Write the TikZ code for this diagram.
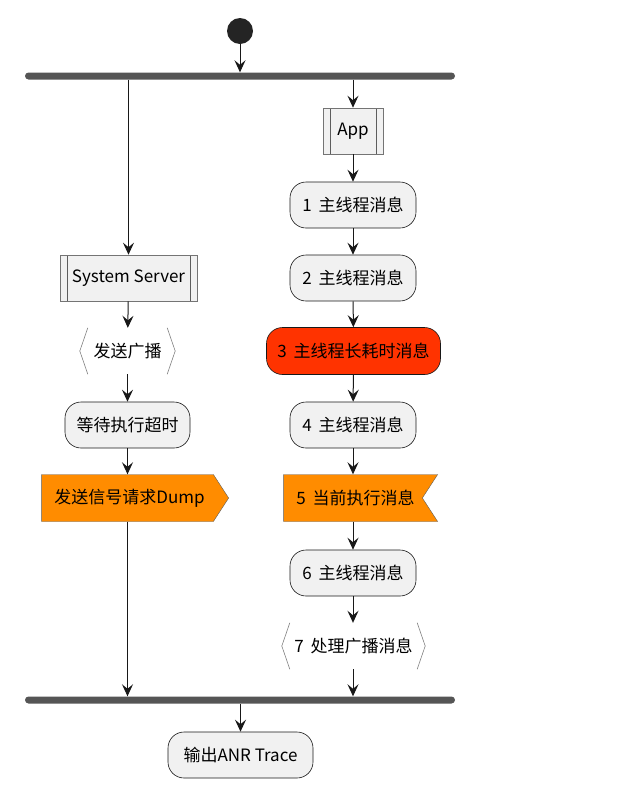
\documentclass[tikz,border=0pt]{standalone}
\usepackage{fontspec}
\setmainfont{Noto Sans CJK SC}
\usetikzlibrary{arrows.meta,shapes.symbols,positioning}
\definecolor{boxfill}{HTML}{F1F1F1}
\definecolor{boxline}{HTML}{181818}
\definecolor{barcol}{HTML}{555555}
\definecolor{hotred}{HTML}{FF3300}
\definecolor{warnorange}{HTML}{FF8C00}
\tikzset{
  act/.style={draw=boxline, fill=boxfill, rounded corners=16pt, line width=0.6pt,
    minimum height=46pt, inner sep=0pt, font=\fontsize{17}{20}\selectfont},
  subproc/.style={draw=boxline!60, fill=boxfill, line width=0.6pt,
    minimum height=46pt, inner sep=0pt, font=\fontsize{17}{20}\selectfont,
    path picture={
      \draw[boxline!70, line width=0.6pt] ([xshift=7pt]path picture bounding box.north west) -- ([xshift=7pt]path picture bounding box.south west);
      \draw[boxline!70, line width=0.6pt] ([xshift=-7pt]path picture bounding box.north east) -- ([xshift=-7pt]path picture bounding box.south east);}},
  recv/.style={minimum height=46pt, inner sep=0pt, font=\fontsize{17}{20}\selectfont},
  brk/.style={draw=boxline!55, line width=0.6pt},
  sendsig/.style={signal, signal to=east, signal pointer angle=114, draw=boxline!70,
    fill=warnorange, minimum height=47pt, inner sep=0pt, font=\fontsize{17}{20}\selectfont},
  cursig/.style={signal, signal to=nowhere, signal from=east, signal pointer angle=114, draw=boxline!70,
    fill=warnorange, minimum height=47pt, inner sep=0pt, font=\fontsize{17}{20}\selectfont},
  bar/.style={fill=barcol, rounded corners=3.5pt, minimum width=430pt, minimum height=7pt, inner sep=0pt},
  flow/.style={-{Stealth[length=12pt,width=11pt,inset=4.5pt]}, line width=1pt, draw=boxline},
  plain/.style={line width=1pt, draw=boxline}
}
\begin{document}
\begin{tikzpicture}[x=1pt,y=-1pt]
  \useasboundingbox (0,0) rectangle (631,788);
  % start and fork
  \node[circle, fill=boxline!95, minimum size=26pt, inner sep=0pt] (start) at (240,31) {};
  \node[bar] (fork) at (240,76) {};
  \node[bar] (join) at (240,700) {};

  % System Server side
  \node[subproc, minimum width=137pt] (ss) at (128.5,278) {System Server};
  \node[recv, minimum width=95pt] (bc) at (127.5,351) {发送广播};
  \draw[brk] ([xshift=8pt]bc.north west) -- (bc.west) -- ([xshift=8pt]bc.south west);
  \draw[brk] ([xshift=-8pt]bc.north east) -- (bc.east) -- ([xshift=-8pt]bc.south east);
  \node[act, minimum width=125pt] (wait) at (127.5,425) {等待执行超时};
  \node[sendsig, minimum width=187pt] (dump) at (127.5,498) {\hspace*{4pt}发送信号请求Dump};

  % App side
  \node[subproc, minimum width=60pt] (app) at (353,131) {App};
  \node[act, minimum width=126pt] (m1) at (353,205) {1\, 主线程消息};
  \node[act, minimum width=126pt] (m2) at (353,278) {2\, 主线程消息};
  \node[act, fill=hotred, minimum width=174pt, minimum height=47pt] (m3) at (353.5,351) {3\, 主线程长耗时消息};
  \node[act, minimum width=126pt] (m4) at (353,425) {4\, 主线程消息};
  \node[cursig, minimum width=154pt] (m5) at (353,498) {\hspace*{5pt}5\, 当前执行消息};
  \node[act, minimum width=126pt] (m6) at (353,573) {6\, 主线程消息};
  \node[recv, minimum width=143pt] (m7) at (353.5,646) {7\, 处理广播消息};
  \draw[brk] ([xshift=8pt]m7.north west) -- (m7.west) -- ([xshift=8pt]m7.south west);
  \draw[brk] ([xshift=-8pt]m7.north east) -- (m7.east) -- ([xshift=-8pt]m7.south east);

  % output
  \node[act, minimum width=145pt] (out) at (240.5,755) {输出ANR Trace};

  % connectors
  \draw[flow] (start) -- (fork.north);
  \draw[flow] (fork.south -| ss.north) -- (ss.north);
  \draw[flow] (ss) -- (bc);
  \draw[flow] (bc) -- (wait);
  \draw[flow] (wait) -- (dump.north -| wait.south);
  \draw[flow] (dump.south -| wait.south) -- (join.north -| wait.south);
  \draw[flow] (fork.south -| app.north) -- (app.north);
  \draw[flow] (app) -- (m1);
  \draw[flow] (m1) -- (m2);
  \draw[flow] (m2) -- (m3);
  \draw[flow] (m3) -- (m4);
  \draw[flow] (m4.south) -- (m5.north -| m4.south);
  \draw[flow] (m5.south -| m4.south) -- (m6.north);
  \draw[flow] (m6) -- (m7.north -| m6.south);
  \draw[flow] (m7.south -| m6.south) -- (join.north -| m6.south);
  \draw[flow] (join.south -| out.north) -- (out.north);
\end{tikzpicture}
\end{document}
